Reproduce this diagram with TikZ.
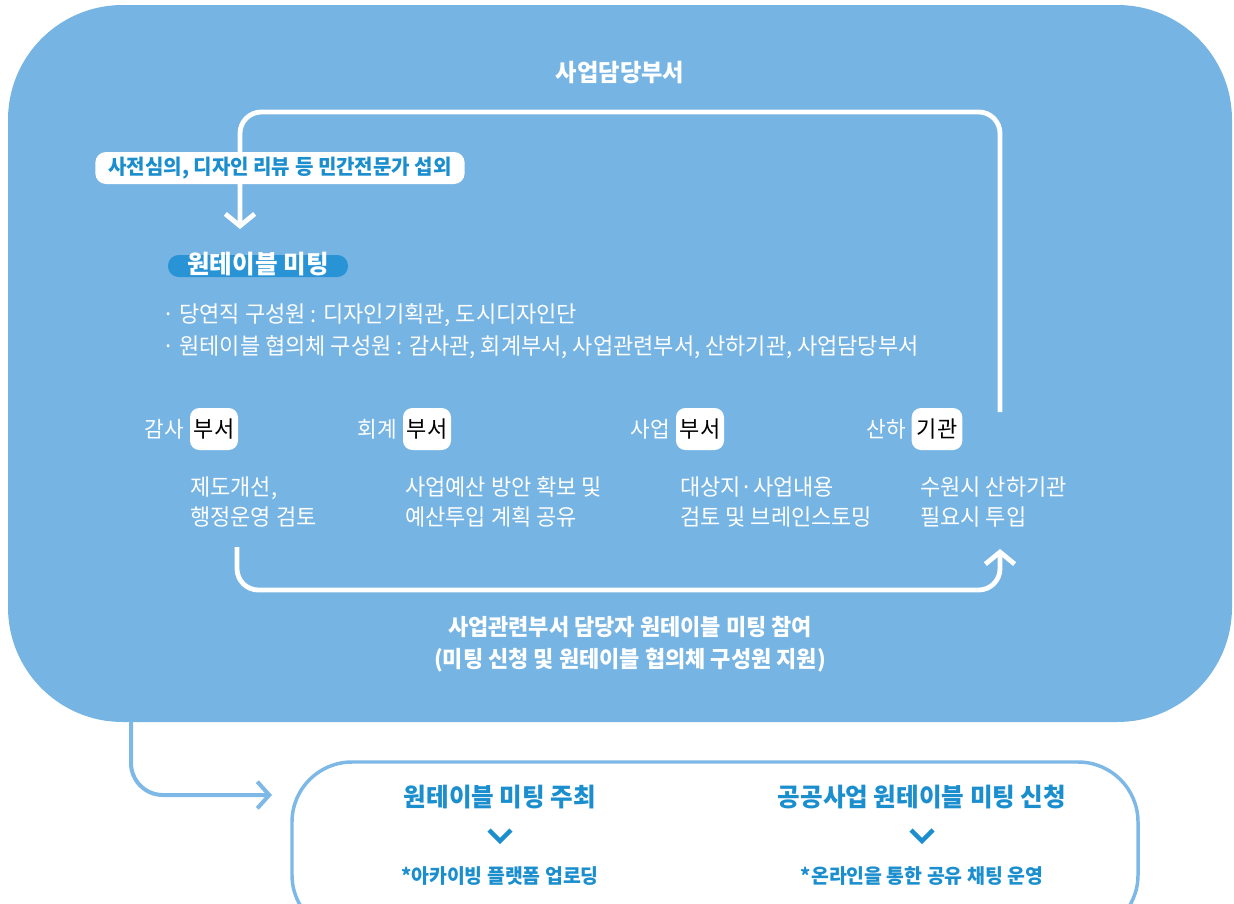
\documentclass[tikz,border=0pt]{standalone}
\usepackage{fontspec}
\setmainfont{Noto Sans CJK KR}[FakeStretch=0.97]
\usetikzlibrary{arrows.meta, positioning}
\definecolor{bgblue}{HTML}{76B4E3}
\definecolor{textblue}{HTML}{1B8ECE}
\definecolor{pillblue}{HTML}{2894D6}
\definecolor{lineblue}{HTML}{7DB8E6}

\begin{document}
\begin{tikzpicture}[
  x=0.75pt, y=-0.75pt,
  every node/.style={inner sep=0pt},
  panel/.style={fill=bgblue, rounded corners=86pt},
  loopline/.style={white, line width=3.6pt, rounded corners=16pt, -{Straight Barb[length=9pt, width=22pt]}},
  outline/.style={lineblue, line width=3pt, rounded corners=24pt, -{Straight Barb[length=9pt, width=20pt]}},
  tag/.style={fill=white, rounded corners=8pt, text=textblue, font=\bfseries\fontsize{15.5}{15.5}\selectfont, minimum width=277pt, minimum height=24pt},
  pill/.style={fill=pillblue, rounded corners=8pt, text=white, font=\bfseries\fontsize{19}{19}\selectfont, minimum width=135pt, text height=13.5pt, text depth=3pt},
  title/.style={text=white, font=\bfseries\fontsize{17}{24}\selectfont, align=center},
  member/.style={text=white, font=\fontsize{17}{17}\selectfont, anchor=west},
  deptbox/.style={fill=white, rounded corners=7pt, font=\fontsize{17}{17}\selectfont, minimum width=36pt, minimum height=31.5pt},
  dept/.style={text=white, font=\fontsize{16.5}{16.5}\selectfont},
  role/.style={text=white, font=\fontsize{17}{22.5}\selectfont, align=left, anchor=west},
  hostbox/.style={draw=lineblue, line width=2.6pt, rounded corners=45pt},
  hosttitle/.style={text=textblue, font=\bfseries\fontsize{19}{19}\selectfont},
  hostnote/.style={text=textblue, font=\bfseries\fontsize{15}{15}\selectfont},
  chev/.style={textblue, line width=3.4pt}
]
\useasboundingbox (0,0) rectangle (1234,903);
\fill[panel] (8,5) rectangle (1232,722);
\draw[hostbox] (292,762) rectangle (1138,935);

% top panel
\node[title, font=\bfseries\fontsize{18}{18}\selectfont] (owner) at (620,73) {사업담당부서};
\node[pill] (meet) at (258,266) {원테이블 미팅};
\node[member] (fixed) at (162,315) {· 당연직 구성원 : 디자인기획관, 도시디자인단};
\node[member] (council) at (162,347) {· 원테이블 협의체 구성원 : 감사관, 회계부서, 사업관련부서, 산하기관, 사업담당부서};

\node[deptbox] (auditbox) at (214,429) {부서};
\node[dept, left=4pt of auditbox] (audit) {감사};
\node[deptbox] (acctbox) at (427,429) {부서};
\node[dept, left=4pt of acctbox] (acct) {회계};
\node[deptbox] (bizbox) at (700,429) {부서};
\node[dept, left=4pt of bizbox] (biz) {사업};
\node[deptbox, minimum width=38pt] (instbox) at (937,429) {기관};
\node[dept, left=4pt of instbox] (inst) {산하};

\node[role] (auditrole) at (190,502) {제도개선,\\행정운영 검토};
\node[role] (acctrole) at (405,502) {사업예산 방안 확보 및\\예산투입 계획 공유};
\node[role] (bizrole) at (680,502) {대상지·사업내용\\검토 및 브레인스토밍};
\node[role] (instrole) at (920,502) {수원시 산하기관\\필요시 투입};

\node[title] (join) at (630,644) {사업관련부서 담당자 원테이블 미팅 참여\\(미팅 신청 및 원테이블 협의체 구성원 지원)};

\coordinate (loopstart) at (1000,412);
\coordinate (looptop) at (620,112);
\coordinate (meetin) at (240,229);
\draw[loopline] (loopstart) |- (looptop) -| (meetin);
\node[tag] (expert) at (280,168) {사전심의, 디자인 리뷰 등 민간전문가 섭외};

\coordinate (partstart) at (237,547);
\coordinate (partlow) at (620,590);
\coordinate (partend) at (1000,549);
\draw[loopline] (partstart) |- (partlow) -| (partend);

% bottom box
\coordinate (panelout) at (131,721);
\coordinate (hostin) at (272,795);
\draw[outline] (panelout) |- (hostin);

\node[hosttitle] (host) at (500,797) {원테이블 미팅 주최};
\node[hostnote] (archive) at (500,876) {*아카이빙 플랫폼 업로딩};
\node[hosttitle] (apply) at (922,797) {공공사업 원테이블 미팅 신청};
\node[hostnote] (chat) at (922,876) {*온라인을 통한 공유 채팅 운영};
\draw[chev] (489,830) -- (500,841) -- (511,830);
\draw[chev] (911,830) -- (922,841) -- (933,830);
\end{tikzpicture}
\end{document}
